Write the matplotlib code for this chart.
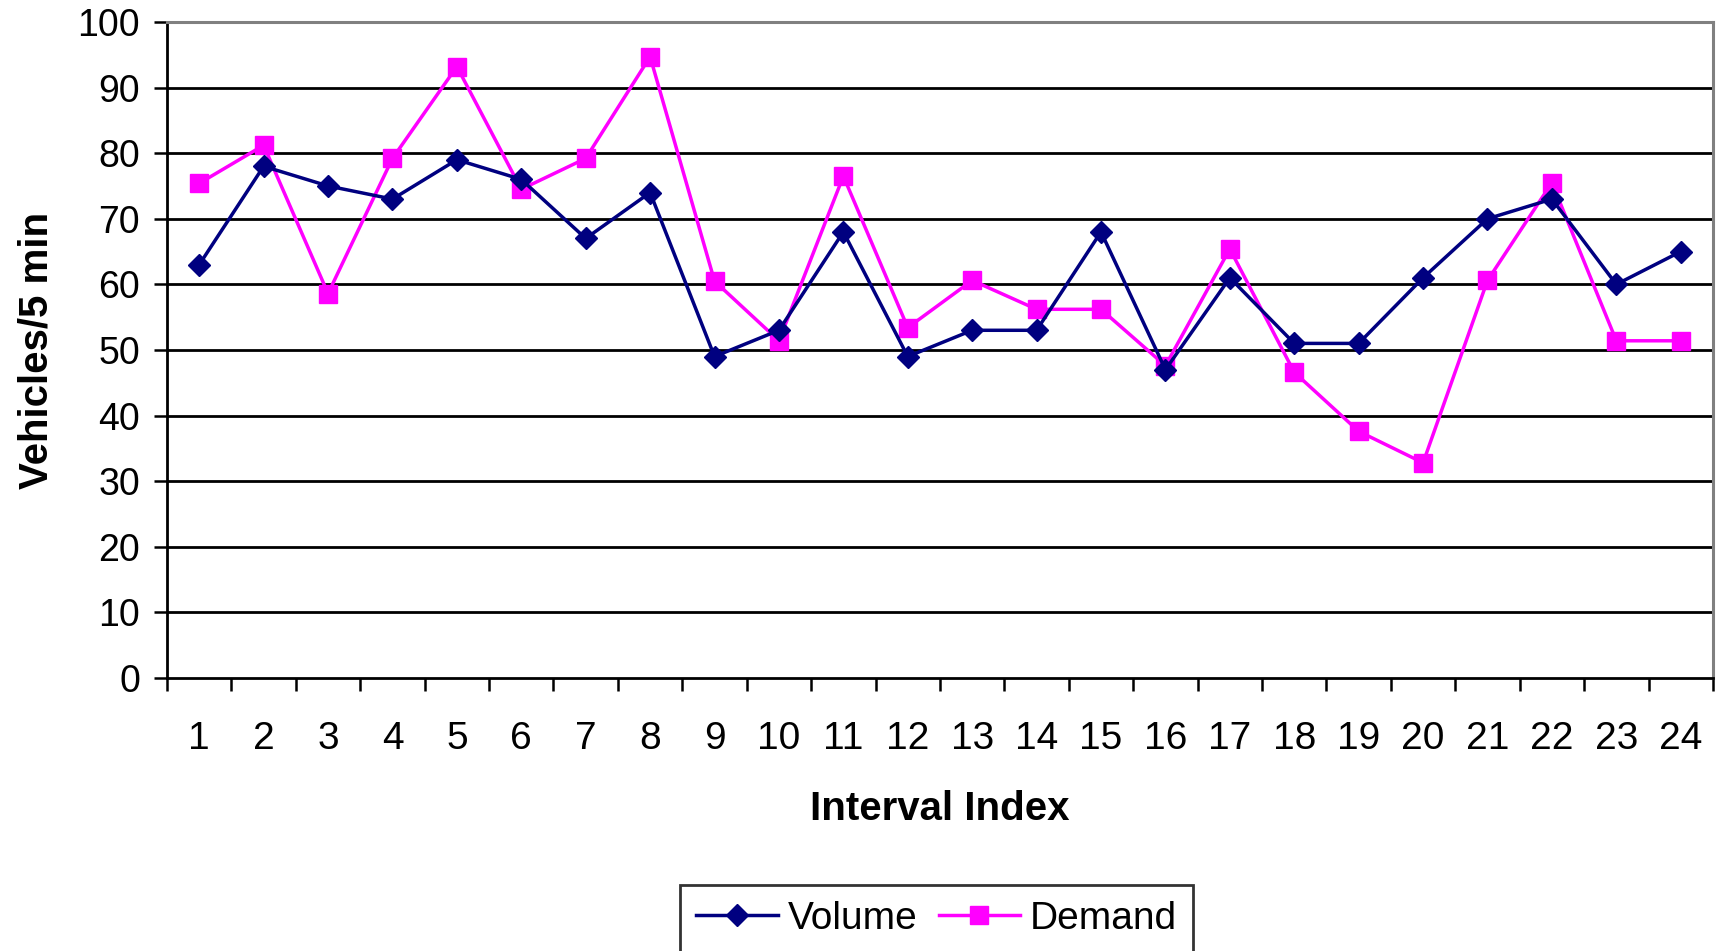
import numpy as np
import matplotlib
matplotlib.use('Agg')
import matplotlib.pyplot as plt

plt.rcParams['font.family'] = ['Liberation Sans', 'DejaVu Sans']

# 5-minute intervals
intervals = list(range(1, 25))
volume = [63, 78, 75, 73, 79, 76, 67, 74, 49, 53, 68, 49,
          53, 53, 68, 47, 61, 51, 51, 61, 70, 73, 60, 65]
demand = [75.4, 81.2, 58.6, 79.2, 93.2, 74.5, 79.2, 94.7, 60.5, 51.4, 76.5, 53.4,
          60.6, 56.2, 56.2, 47.6, 65.4, 46.6, 37.6, 32.8, 60.6, 75.5, 51.4, 51.4]
y_ticks = list(range(0, 101, 10))

fig = plt.figure(figsize=(17.2, 9.51), dpi=100)
ax = fig.add_axes([0.0971, 0.2871, 0.8988, 0.6898])

# horizontal gridlines
for yv in y_ticks[1:-1]:
    ax.axhline(yv, color='black', lw=2.0, zorder=1)

ax.plot(intervals, volume, color='#000080', lw=2.5, marker='D', markersize=11,
        label='Volume', zorder=3)
ax.plot(intervals, demand, color='#FF00FF', lw=2.5, marker='s', markersize=12.5,
        label='Demand', zorder=2)

ax.set_xlim(0.5, 24.5)
ax.set_ylim(0, 100)

ax.set_yticks(y_ticks)
ax.tick_params(axis='y', direction='out', length=9.5, width=1.8, pad=10, labelsize=27)

# category boundaries carry the tick marks, labels sit in between
ax.set_xticks(np.arange(0.5, 25, 1))
ax.set_xticklabels([])
ax.set_xticks(intervals, minor=True)
ax.set_xticklabels([str(i) for i in intervals], minor=True)
ax.tick_params(axis='x', which='major', direction='out', length=9.5, width=1.8)
ax.tick_params(axis='x', which='minor', length=0, pad=31, labelsize=28)

for side in ['left', 'bottom']:
    ax.spines[side].set_color('black')
    ax.spines[side].set_linewidth(2)
for side in ['top', 'right']:
    ax.spines[side].set_color('#808080')
    ax.spines[side].set_linewidth(2.2)

ax.set_xlabel('Interval Index', fontsize=29, fontweight='bold', labelpad=24)
ax.set_ylabel('Vehicles/5 min', fontsize=29, fontweight='bold', labelpad=16)

leg = fig.legend(loc='upper center', bbox_to_anchor=(0.5445, 0.0715), ncol=2,
                 fontsize=28, frameon=True, fancybox=False, edgecolor='black',
                 handlelength=2.1, columnspacing=0.55, handletextpad=0.25,
                 borderpad=0.45, borderaxespad=0, markerscale=1.0)
leg.get_frame().set_linewidth(2)
leg.get_frame().set_boxstyle('square', pad=-0.05)

fig.savefig('out.png', dpi=100)
